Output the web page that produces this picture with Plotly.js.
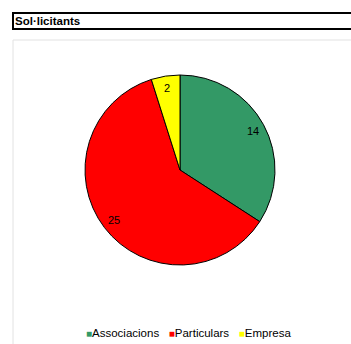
<!DOCTYPE html>
<html><head><meta charset="utf-8">
<script src="https://cdn.plot.ly/plotly-3.0.1.min.js"></script>
<style>html,body{margin:0;padding:0;background:#fff}#chart{width:351px;height:344px}</style>
</head><body><div id="chart"></div>
<script>
const categories = ["Associacions", "Particulars", "Empresa"];
const values = [14, 25, 2];
const colors = ["#339966", "#FF0000", "#FFFF00"];
const chartTitle = "Sol·licitants";

const W = 351, H = 344;
const cx = 180, cy = 170, R = 95;
const px = x => x / W, py = y => 1 - y / H;

const total = values.reduce((a, b) => a + b, 0);
let cum = 0;
const labelAnns = values.map(v => {
  const m = (cum + v / 2) / total; cum += v;
  const th = 2 * Math.PI * m;
  const r = 0.87 * R;
  return {xref: 'paper', yref: 'paper', x: px(cx + r * Math.sin(th)), y: py(cy - r * Math.cos(th)),
    text: String(v), showarrow: false, xanchor: 'center', yanchor: 'middle',
    font: {family: 'Liberation Sans, Arial', size: 11, color: '#000'}};
});

const legendText = categories.map((c, i) =>
  `<span style="color:${colors[i]};font-size:10px">■</span>${c}`).join('&nbsp;&nbsp;&nbsp;');

const data = [{
  type: 'pie', values: values, labels: categories, sort: false, direction: 'clockwise', rotation: 0,
  marker: {colors: colors, line: {color: '#000', width: 1}},
  textinfo: 'none', hoverinfo: 'none', showlegend: false,
  domain: {x: [px(cx - R), px(cx + R)], y: [py(cy + R), py(cy - R)]}
}];

const layout = {
  width: W, height: H, margin: {l: 0, r: 0, t: 0, b: 0},
  paper_bgcolor: '#fff', showlegend: false,
  title: {text: '<b>' + chartTitle + '</b>', x: px(15), xanchor: 'left', y: py(21), yanchor: 'middle',
    xref: 'paper', yref: 'paper', font: {family: 'Liberation Sans, Arial', size: 11.5, color: '#000'}},
  shapes: [
    {type: 'rect', xref: 'paper', yref: 'paper', x0: px(13), x1: px(362), y0: py(40), y1: py(360),
     line: {color: '#e2e2e2', width: 1}},
    {type: 'rect', xref: 'paper', yref: 'paper', x0: px(13), x1: px(362), y0: py(13), y1: py(29),
     line: {color: '#000', width: 2}}
  ],
  annotations: labelAnns.concat([{
    xref: 'paper', yref: 'paper', x: px(188), y: py(333), xanchor: 'center', yanchor: 'middle',
    showarrow: false, text: legendText,
    font: {family: 'Liberation Sans, Arial', size: 11.5, color: '#000'}
  }])
};
Plotly.newPlot('chart', data, layout, {displayModeBar: false, staticPlot: true});
</script></body></html>
